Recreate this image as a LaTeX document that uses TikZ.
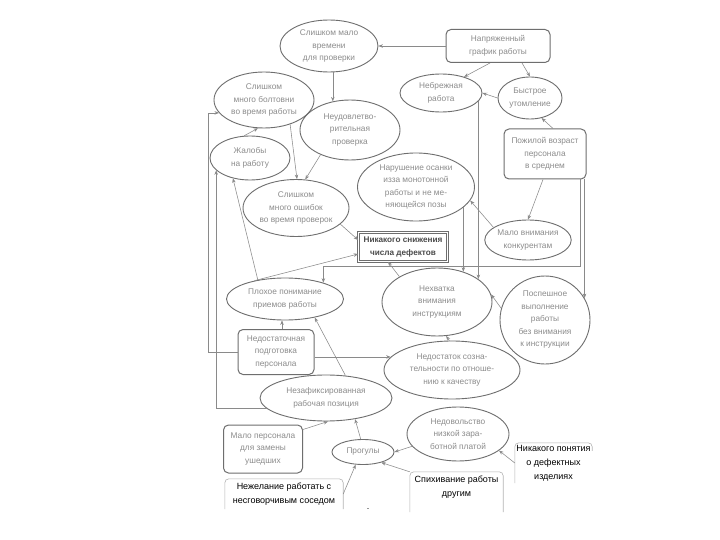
\documentclass[tikz,border=0pt]{standalone}
\usepackage{fontspec}
\setmainfont{Liberation Sans}
\usetikzlibrary{shapes.geometric,arrows.meta}
\definecolor{lc}{HTML}{6E6E6E}
\definecolor{tc}{HTML}{8C8C8C}
\definecolor{ac}{HTML}{8A8A8A}
\definecolor{pc}{HTML}{B4B4B4}
\definecolor{bc}{HTML}{4A4A4A}
\newcommand\dgfs{\fontsize{8.3}{12.5}\selectfont}
\newcommand\dgfb{\fontsize{9}{14}\selectfont}
\newcommand\dgfx{\fontsize{8.2}{13}\selectfont\bfseries}
\tikzset{
  el/.style={ellipse, draw=lc, line width=0.9pt, inner sep=0pt, text=tc, align=center, font=\dgfs},
  rb/.style={rectangle, rounded corners=5pt, draw=lc, line width=1pt, inner sep=0pt, text=tc, align=center, font=\dgfs},
  arr/.style={draw=ac, line width=0.55pt, -{Stealth[length=4.5pt,width=3.5pt]}},
  paste/.style={rectangle, inner sep=0pt, align=center, font=\dgfb, text=black},
  pasteline/.style={draw=pc, line width=0.6pt, rounded corners=4pt},
}
\begin{document}
\begin{tikzpicture}[x=1pt,y=-1pt]
\useasboundingbox[fill=white] (0,0) rectangle (720,540);

% nodes
\node[el, minimum width=98pt, minimum height=52pt] (e1) at (329,46) {Слишком мало\\времени\\для проверки};
\node[rb, minimum width=104pt, minimum height=33pt] (r2) at (498,46) {Напряженный\\график работы};
\node[el, minimum width=100pt, minimum height=56pt] (e3) at (264,100) {Слишком\\много болтовни\\во время работы};
\node[el, minimum width=82pt, minimum height=38pt] (e4) at (441,93) {Небрежная\\работа};
\node[el, minimum width=64pt, minimum height=42pt] (e5) at (530,98) {Быстрое\\утомление};
\node[el, minimum width=100pt, minimum height=60pt] (e6) at (350,130) {Неудовлетво-\\рительная\\проверка};
\node[el, minimum width=80pt, minimum height=44pt] (e7) at (250,158) {Жалобы\\на работу};
\node[rb, minimum width=82pt, minimum height=50pt] (r8) at (545,154) {Пожилой возраст\\персонала\\в среднем};
\node[el, minimum width=117pt, minimum height=68pt] (e9) at (416,187) {Нарушение осанки\\изза монотонной\\работы и не ме-\\няющейся позы};
\node[el, minimum width=106pt, minimum height=57pt] (e10) at (296,208) {Слишком\\много ошибок\\во время проверок};
\node[el, minimum width=86pt, minimum height=40pt] (e11) at (528,240) {Мало внимания\\конкурентам};
\node[rectangle, draw=lc, double, double distance=1.2pt, line width=0.7pt, minimum width=89pt, minimum height=29pt, inner sep=0pt, align=center, font=\dgfx, text=bc] (r12) at (403,247) {Никакого снижения\\числа дефектов};
\node[el, minimum width=117pt, minimum height=42pt] (e13) at (285,299) {Плохое понимание\\приемов работы};
\node[el, minimum width=110pt, minimum height=68pt] (e14) at (437,302) {Нехватка\\внимания\\инструкциям};
\node[el, minimum width=90pt, minimum height=88pt] (e15) at (545,320) {Поспешное\\выполнение\\работы\\без внимания\\к инструкции};
\node[rb, minimum width=76pt, minimum height=45pt] (r16) at (276,352) {Недостаточная\\подготовка\\персонала};
\node[el, minimum width=136pt, minimum height=58pt] (e17) at (452,370) {Недостаток созна-\\тельности по отноше-\\нию к качеству};
\node[el, minimum width=132pt, minimum height=46pt] (e18) at (326,398) {Незафиксированная\\рабочая позиция};
\node[rb, minimum width=79pt, minimum height=48pt] (r19) at (263,449) {Мало персонала\\для замены\\ушедших};
\node[el, minimum width=62pt, minimum height=25pt] (e20) at (363,452) {Прогулы};
\node[el, minimum width=102pt, minimum height=54pt] (e21) at (458,434) {Недовольство\\низкой зара-\\ботной платой};

\node[paste, minimum width=77pt, minimum height=40pt] (b22) at (553.5,463) {Никакого понятия\\о дефектных\\изделиях};
\node[paste, minimum width=93pt, minimum height=30pt] (b23) at (456.5,487) {Спихивание работы\\другим};
\node[paste, minimum width=118pt, minimum height=30pt] (b24) at (284,494) {Нежелание работать с\\несговорчивым соседом};
\node[font=\dgfb] (dot) at (368,509) {.};

% partial borders of pasted boxes
\draw[pasteline] (b22.south west) -- (b22.north west) -- (b22.north east) -- ([yshift=-8pt]b22.north east);
\draw[pasteline] ([yshift=-10pt]b23.south west) -- (b23.north west) -- (b23.north east) -- ([yshift=-10pt]b23.south east);
\draw[pasteline] (b24.south west) -- (b24.north west) -- (b24.north east) -- (b24.south east);

% helper coordinates
\coordinate (lx1) at (208,0);
\coordinate (hy) at (0,266);
\coordinate (rx1) at (580,0);

% connectors
\draw[arr] (r2.west) -- (e1.east);
\draw[arr] ([xshift=-8pt]r2.south) -- (e4.35);
\draw[arr] ([xshift=24pt]r2.south) -- (e5.north);
\draw[arr] (e5.west) -- (e4.east);
\draw[arr] ([xshift=8pt]r8.north) -- (e5.300);
\draw[arr] ([xshift=-2pt]r8.south) -- (e11.north);
\draw[arr] (e11.160) -- (e9.-14);
\draw[arr] (e6.121 |- e1.south) -- (e6.121);
\draw[arr] (e3.-43) -- (e10.88);
\draw[arr] (e6.220) -- (e10.72);
\draw[arr] (e7.105) -- (e3.258);
\draw[arr] (e10.-20) -- ([yshift=7pt]r12.west);
\draw[arr] (e13.149) -- ([yshift=-7pt]r12.west);
\draw[arr] (e13.145) -- (e7.230);
\draw[arr] (e14.146) -- ([xshift=-15pt]r12.south);
\draw[arr] (e14.49 |- e9.-23) -- (e14.49);
\draw[arr] (e14.29 |- e4.-12) -- (e14.29);
\draw[arr] (e15.165) -- (e14.8);
\draw[arr] (e17.95) -- (e14.-75);
\draw[arr] ([xshift=6pt]r16.north) -- ([xshift=-3pt]e13.south);
\draw[arr] (r16.east |- e17.168) -- (e17.168);
\draw[arr] (e18.49) -- (e13.-32);
\draw[arr] ([yshift=-5pt]r19.north east) -- (e18.275);
\draw[arr] (e20.100) -- (e18.-36);
\draw[arr] (e21.195) -- (e20.east);
\draw[arr] (b23.north west) -- (e20.-30);
\draw[arr] (b24.east) -- (e20.240);
\draw[arr] (b22.west) -- (e21.-22);
% frame connectors
\draw[arr] (r16.west) -| (lx1 |- e3.196) -- (e3.196);
\draw[arr] (e18.190) -| (e7.200);
\draw[arr] (r8.south -| rx1) |- (e13.23 |- hy) -- (e13.23);
\draw[arr] (r8.south -| e15.29) -- (e15.29);
\end{tikzpicture}
\end{document}
